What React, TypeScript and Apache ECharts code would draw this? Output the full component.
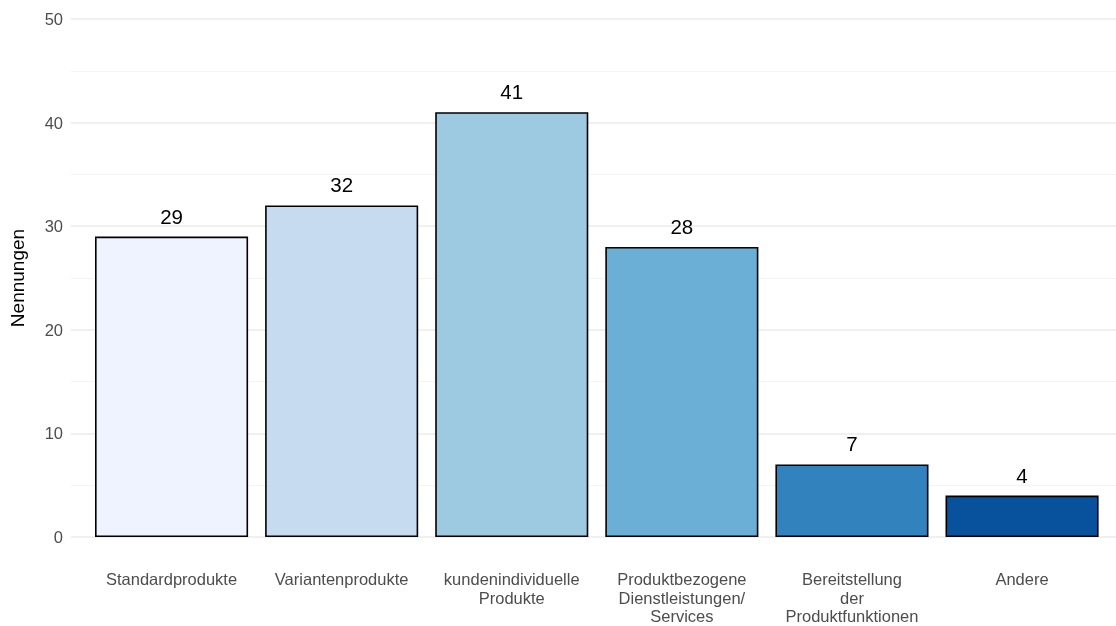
import React, { useEffect, useRef } from "react";
import * as echarts from "echarts";

const categories = [
  "Standardprodukte",
  "Variantenprodukte",
  "kundenindividuelle\nProdukte",
  "Produktbezogene\nDienstleistungen/\nServices",
  "Bereitstellung\nder\nProduktfunktionen",
  "Andere",
];
const values = [29, 32, 41, 28, 7, 4];
const colors = ["#EFF3FF", "#C6DBEF", "#9ECAE1", "#6BAED6", "#3182BD", "#08519C"];
const yTicks = [0, 10, 20, 30, 40, 50];

export default function App() {
  const ref = useRef<HTMLDivElement>(null);
  useEffect(() => {
    const chart = echarts.init(ref.current!, null, { renderer: "svg" });
    const font = "Liberation Sans, Arial, sans-serif";
    chart.setOption({
      animation: false,
      textStyle: { fontFamily: font },
      grid: [
        { left: 68, top: 19, width: 1060, height: 518, containLabel: false },
        { left: 86.5, top: 19, width: 1020.6, height: 518, containLabel: false },
      ],
      xAxis: [
        { type: "value", gridIndex: 0, show: false, min: 0, max: 1 },
        {
          type: "category",
          gridIndex: 1,
          data: categories,
          axisLine: { show: false },
          axisTick: { show: false },
          axisLabel: {
            color: "#4D4D4D",
            fontSize: 16.5,
            lineHeight: 18.5,
            margin: 33,
            interval: 0,
            fontFamily: font,
          },
        },
      ],
      yAxis: [
        {
          type: "value",
          gridIndex: 0,
          min: yTicks[0],
          max: yTicks[yTicks.length - 1],
          interval: 10,
          name: "Nennungen",
          nameLocation: "middle",
          nameGap: 44,
          nameTextStyle: { color: "#000", fontSize: 19, fontFamily: font },
          axisLine: { show: false },
          axisTick: { show: false },
          axisLabel: { color: "#4D4D4D", fontSize: 16.5, margin: 8, fontFamily: font },
          splitLine: { show: true, lineStyle: { color: "#EBEBEB", width: 1.5 } },
          minorTick: { show: false, splitNumber: 2 },
          minorSplitLine: { show: true, lineStyle: { color: "#F4F4F4", width: 1.2 } },
        },
        {
          type: "value",
          gridIndex: 1,
          min: 0,
          max: 50,
          show: false,
          splitLine: { show: false },
        },
      ],
      series: [
        {
          type: "bar",
          xAxisIndex: 1,
          yAxisIndex: 1,
          barWidth: "90%",
          data: values.map((v, i) => ({
            value: v,
            itemStyle: { color: colors[i], borderColor: "#000", borderWidth: 1.6 },
          })),
          label: {
            show: true,
            position: "top",
            distance: 10,
            color: "#000",
            fontSize: 20.5,
            fontFamily: font,
          },
        },
      ],
    });
    return () => chart.dispose();
  }, []);
  return (
    <div
      ref={ref}
      style={{ position: "fixed", left: 0, top: 0, width: 1116, height: 626 }}
    />
  );
}
